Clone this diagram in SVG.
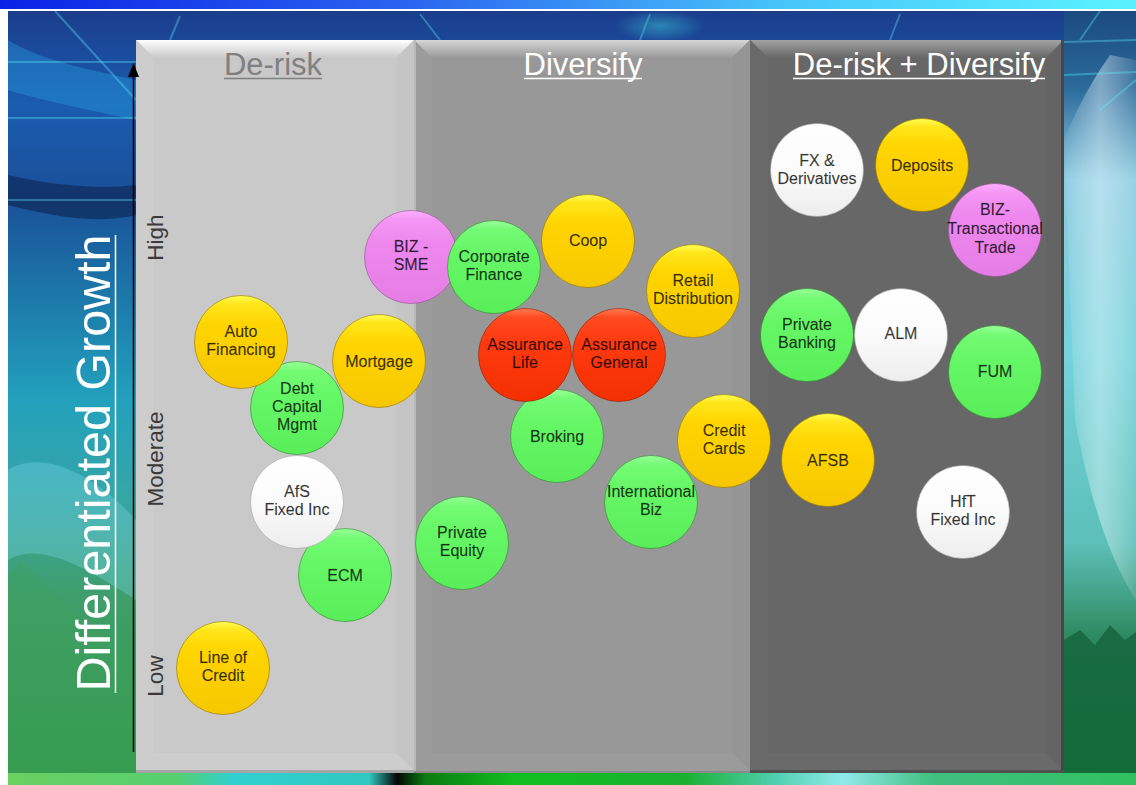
<svg xmlns="http://www.w3.org/2000/svg" width="1136" height="785" viewBox="0 0 1136 785">
<defs>
<style>
.hdr{font-family:"Liberation Sans",Arial,sans-serif;font-size:31px;text-anchor:middle}
.lvl{font-family:"Liberation Sans",Arial,sans-serif;font-size:22.5px;text-anchor:middle;fill:#3a3a3a}
.bt{font-family:"Liberation Sans",Arial,sans-serif;font-size:16px;text-anchor:middle;fill:#000;fill-opacity:.78;stroke:#000;stroke-opacity:.25;stroke-width:.4}
.y{fill:url(#gY);stroke:#8a6a00;stroke-opacity:.55;stroke-width:1}
.g{fill:url(#gG);stroke:#2a7a2a;stroke-opacity:.55;stroke-width:1}
.r{fill:url(#gR);stroke:#8a1a00;stroke-opacity:.55;stroke-width:1}
.p{fill:url(#gP);stroke:#8a4a8a;stroke-opacity:.55;stroke-width:1}
.w{fill:url(#gW);stroke:#999;stroke-opacity:.55;stroke-width:1}
</style>
<linearGradient id="gY" x1="0" y1="0" x2="0" y2="1"><stop offset="0" stop-color="#ffff55"/><stop offset=".09" stop-color="#ffe61c"/><stop offset=".3" stop-color="#ffd500"/><stop offset="1" stop-color="#f6c700"/></linearGradient>
<linearGradient id="gG" x1="0" y1="0" x2="0" y2="1"><stop offset="0" stop-color="#9aff9a"/><stop offset=".1" stop-color="#74fb74"/><stop offset=".35" stop-color="#66f766"/><stop offset="1" stop-color="#5aee5a"/></linearGradient>
<linearGradient id="gR" x1="0" y1="0" x2="0" y2="1"><stop offset="0" stop-color="#ff7a50"/><stop offset=".1" stop-color="#ff4a20"/><stop offset=".35" stop-color="#ff3a10"/><stop offset="1" stop-color="#f23000"/></linearGradient>
<linearGradient id="gP" x1="0" y1="0" x2="0" y2="1"><stop offset="0" stop-color="#ffb0ff"/><stop offset=".1" stop-color="#f596f5"/><stop offset=".35" stop-color="#ee88ee"/><stop offset="1" stop-color="#e47ee4"/></linearGradient>
<linearGradient id="gW" x1="0" y1="0" x2="0" y2="1"><stop offset="0" stop-color="#ffffff"/><stop offset=".5" stop-color="#fbfbfb"/><stop offset="1" stop-color="#ededed"/></linearGradient>
<linearGradient id="topbar" x1="0" y1="0" x2="1" y2="0"><stop offset="0" stop-color="#0a22e6"/><stop offset=".35" stop-color="#2a62f0"/><stop offset=".7" stop-color="#48c8fa"/><stop offset="1" stop-color="#5af2ff"/></linearGradient>
<linearGradient id="bg" x1="0" y1="0" x2="0" y2="1"><stop offset="0" stop-color="#1b3d8c"/><stop offset=".12" stop-color="#1a5cb0"/><stop offset=".24" stop-color="#1a4f98"/><stop offset=".34" stop-color="#1b6fa5"/><stop offset=".5" stop-color="#22a0bc"/><stop offset=".62" stop-color="#35a6a8"/><stop offset=".76" stop-color="#3f9e6a"/><stop offset="1" stop-color="#2f9a40"/></linearGradient>
<linearGradient id="rightStrip" x1="0" y1="0" x2="0" y2="1"><stop offset="0" stop-color="#1b4a80"/><stop offset=".1" stop-color="#2a6a9a"/><stop offset=".22" stop-color="#8ccbe0"/><stop offset=".45" stop-color="#74d2da"/><stop offset=".7" stop-color="#5cbfb8"/><stop offset=".82" stop-color="#2f8a60"/><stop offset="1" stop-color="#1e8a3c"/></linearGradient>
<linearGradient id="beam" x1="0" y1="0" x2="1" y2="0"><stop offset="0" stop-color="#ffffff" stop-opacity=".05"/><stop offset=".5" stop-color="#e8f8ff" stop-opacity=".45"/><stop offset="1" stop-color="#ffffff" stop-opacity=".1"/></linearGradient>
<linearGradient id="bottomStrip" x1="0" y1="0" x2="1" y2="0"><stop offset="0" stop-color="#6ad060"/><stop offset=".15" stop-color="#56cf70"/><stop offset=".2" stop-color="#30d0d0"/><stop offset=".32" stop-color="#30c8c0"/><stop offset=".345" stop-color="#050805"/><stop offset=".37" stop-color="#0a7a10"/><stop offset=".45" stop-color="#10c020"/><stop offset=".6" stop-color="#1ab030"/><stop offset=".68" stop-color="#50d0b0"/><stop offset=".74" stop-color="#90eaea"/><stop offset=".82" stop-color="#40c080"/><stop offset="1" stop-color="#30c060"/></linearGradient>
<radialGradient id="glow" cx="50%" cy="50%" r="50%"><stop offset="0" stop-color="#40d8e0" stop-opacity=".45"/><stop offset="1" stop-color="#40d8e0" stop-opacity="0"/></radialGradient>
<linearGradient id="tb1" x1="0" y1="0" x2="0" y2="1"><stop offset="0" stop-color="#ffffff"/><stop offset="1" stop-color="#c9c9c9"/></linearGradient>
<linearGradient id="tb2" x1="0" y1="0" x2="0" y2="1"><stop offset="0" stop-color="#d6d6d6"/><stop offset="1" stop-color="#989898"/></linearGradient>
<linearGradient id="tb3" x1="0" y1="0" x2="0" y2="1"><stop offset="0" stop-color="#a2a2a2"/><stop offset="1" stop-color="#676767"/></linearGradient>
</defs>

<g id="background">
<rect x="0" y="0" width="1136" height="785" fill="#ffffff"/>
<rect x="0" y="0" width="1136" height="9" fill="url(#topbar)"/>
<rect x="8" y="11" width="1128" height="774" fill="url(#bg)"/>
<rect x="1064" y="11" width="72" height="762" fill="url(#rightStrip)"/>
<path d="M1064,140 C1085,90 1100,70 1110,55 L1136,60 L1136,600 C1110,560 1090,500 1075,420 Z" fill="url(#beam)"/>
<path d="M1064,640 L1080,630 L1095,645 L1110,625 L1125,640 L1136,632 L1136,773 L1064,773 Z" fill="#12603a" opacity=".75"/>
<path d="M8,40 C40,60 90,70 136,80 L136,120 C90,110 40,100 8,90 Z" fill="#28a8e8" opacity=".35"/>
<path d="M8,175 C50,185 100,190 136,185 L136,215 C90,225 50,215 8,205 Z" fill="#071a40" opacity=".5"/>
<path d="M8,470 C40,450 90,470 136,520 L136,600 C90,570 40,540 8,560 Z" fill="#7ad8e8" opacity=".35"/>
<path d="M20,560 C60,600 100,640 136,660 L136,773 L8,773 L8,580 Z" fill="#3fa060" opacity=".45"/>
<g stroke="#5ff0ff" stroke-opacity=".35" stroke-width="2" fill="none">
<line x1="8" y1="62" x2="136" y2="62"/>
<line x1="8" y1="118" x2="136" y2="118"/>
<line x1="55" y1="11" x2="136" y2="100"/>
<line x1="8" y1="200" x2="136" y2="200"/>
<line x1="1064" y1="42" x2="1136" y2="40"/>
<line x1="1064" y1="75" x2="1136" y2="72"/>
<line x1="1100" y1="11" x2="1080" y2="40"/>
<line x1="1136" y1="80" x2="1100" y2="110"/>
<line x1="180" y1="16" x2="170" y2="40"/>
<line x1="420" y1="14" x2="440" y2="40"/>
<line x1="650" y1="14" x2="640" y2="40"/>
<line x1="900" y1="14" x2="890" y2="40"/>
</g>
<ellipse cx="660" cy="26" rx="45" ry="16" fill="url(#glow)"/>
<rect x="8" y="773" width="1128" height="12" fill="url(#bottomStrip)"/>
<rect x="0" y="9" width="1136" height="2" fill="#ffffff"/>
</g>

<g id="panels">
<g id="panel-derisk">
<rect x="136" y="40" width="278" height="733" fill="#c9c9c9"/>
<polygon points="136,40 414,40 396,58 154,58" fill="url(#tb1)"/>
<polygon points="136,40 154,58 154,753 136,771" fill="#cdcdcd"/>
<polygon points="414,40 414,771 396,753 396,58" fill="#c5c5c5"/>
<polygon points="136,771 154,753 396,753 414,771" fill="#cdcdcd"/>
<rect x="136" y="770" width="278" height="3" fill="#a6a6a6"/>
</g>
<g id="panel-diversify">
<rect x="414" y="40" width="336" height="733" fill="#989898"/>
<polygon points="414,40 750,40 732,58 432,58" fill="url(#tb2)"/>
<polygon points="414,40 432,58 432,753 414,771" fill="#9b9b9b"/>
<polygon points="750,40 750,771 732,753 732,58" fill="#959595"/>
<polygon points="414,771 432,753 732,753 750,771" fill="#9b9b9b"/>
<rect x="414" y="40" width="2" height="733" fill="#b8b8b8"/>
<rect x="414" y="771" width="336" height="2" fill="#8a8a8a"/>
</g>
<g id="panel-both">
<rect x="750" y="40" width="314" height="733" fill="#676767"/>
<polygon points="750,40 1064,40 1046,58 768,58" fill="url(#tb3)"/>
<polygon points="750,40 768,58 768,753 750,771" fill="#696969"/>
<polygon points="1064,40 1064,771 1046,753 1046,58" fill="#646464"/>
<polygon points="750,771 768,753 1046,753 1064,771" fill="#6a6a6a"/>
<rect x="1061" y="40" width="3" height="733" fill="#474747"/>
<rect x="750" y="770" width="314" height="3" fill="#505050"/>
</g>
<g id="headers">
<text class="hdr" x="273" y="75" fill="#808080">De-risk</text>
<line x1="224" y1="78.5" x2="322" y2="78.5" stroke="#808080" stroke-width="1.5"/>
<text class="hdr" x="583" y="75" fill="#ffffff">Diversify</text>
<line x1="524" y1="78.5" x2="642" y2="78.5" stroke="#ffffff" stroke-width="1.5"/>
<text class="hdr" x="919" y="75" fill="#ffffff">De-risk + Diversify</text>
<line x1="793" y1="78.5" x2="1045" y2="78.5" stroke="#ffffff" stroke-width="1.5"/>
</g>
</g>

<g id="axis">
<line x1="133.5" y1="74" x2="133.5" y2="752" stroke="#000" stroke-width="1.5"/>
<polygon points="133.5,63 128,77 139,77" fill="#000"/>
<text transform="translate(110,463) rotate(-90)" font-family="Liberation Sans, Arial, sans-serif" font-size="48" fill="#ffffff" text-anchor="middle" textLength="457" lengthAdjust="spacingAndGlyphs">Differentiated Growth</text>
<line x1="115.5" y1="235" x2="115.5" y2="693" stroke="#ffffff" stroke-width="1.5"/>
<text class="lvl" transform="translate(163,237.5) rotate(-90)">High</text>
<text class="lvl" transform="translate(163,459) rotate(-90)">Moderate</text>
<text class="lvl" transform="translate(163,676) rotate(-90)">Low</text>
</g>

<g id="connectors"></g>

<g id="nodes">
<g id="n-biz-sme"><circle class="p" cx="411" cy="257" r="46.5"/><text class="bt" x="411" y="252">BIZ -</text><text class="bt" x="411" y="270">SME</text></g>
<g id="n-corporate-finance"><circle class="g" cx="494" cy="267" r="46.5"/><text class="bt" x="494" y="262">Corporate</text><text class="bt" x="494" y="280">Finance</text></g>
<g id="n-coop"><circle class="y" cx="588" cy="241" r="46.5"/><text class="bt" x="588" y="246">Coop</text></g>
<g id="n-retail"><circle class="y" cx="693" cy="291" r="46.5"/><text class="bt" x="693" y="286">Retail</text><text class="bt" x="693" y="304">Distribution</text></g>
<g id="n-debt-capital"><circle class="g" cx="297" cy="408" r="46.5"/><text class="bt" x="297" y="394">Debt</text><text class="bt" x="297" y="412">Capital</text><text class="bt" x="297" y="430">Mgmt</text></g>
<g id="n-auto"><circle class="y" cx="241" cy="342" r="46.5"/><text class="bt" x="241" y="337">Auto</text><text class="bt" x="241" y="355">Financing</text></g>
<g id="n-mortgage"><circle class="y" cx="379" cy="361" r="46.5"/><text class="bt" x="379" y="367">Mortgage</text></g>
<g id="n-ecm"><circle class="g" cx="345" cy="575" r="46.5"/><text class="bt" x="345" y="581">ECM</text></g>
<g id="n-afs"><circle class="w" cx="297" cy="502" r="46.5"/><text class="bt" x="297" y="497">AfS</text><text class="bt" x="297" y="515">Fixed Inc</text></g>
<g id="n-private-equity"><circle class="g" cx="462" cy="543" r="46.5"/><text class="bt" x="462" y="538">Private</text><text class="bt" x="462" y="556">Equity</text></g>
<g id="n-line-of-credit"><circle class="y" cx="223" cy="668" r="46.5"/><text class="bt" x="223" y="663">Line of</text><text class="bt" x="223" y="681">Credit</text></g>
<g id="n-broking"><circle class="g" cx="557" cy="436" r="46.5"/><text class="bt" x="557" y="442">Broking</text></g>
<g id="n-assurance-life"><circle class="r" cx="525" cy="355" r="46.5"/><text class="bt" x="525" y="350">Assurance</text><text class="bt" x="525" y="368">Life</text></g>
<g id="n-assurance-general"><circle class="r" cx="619" cy="355" r="46.5"/><text class="bt" x="619" y="350">Assurance</text><text class="bt" x="619" y="368">General</text></g>
<g id="n-credit-cards"><circle class="y" cx="724" cy="441" r="46.5"/><text class="bt" x="724" y="436">Credit</text><text class="bt" x="724" y="454">Cards</text></g>
<g id="n-international"><circle class="g" cx="651" cy="502" r="46.5"/><text class="bt" x="651" y="497">International</text><text class="bt" x="651" y="515">Biz</text></g>
<g id="n-fx"><circle class="w" cx="817" cy="170" r="46.5"/><text class="bt" x="817" y="166">FX &amp;</text><text class="bt" x="817" y="184">Derivatives</text></g>
<g id="n-deposits"><circle class="y" cx="922" cy="165" r="46.5"/><text class="bt" x="922" y="171">Deposits</text></g>
<g id="n-biz-trade"><circle class="p" cx="995" cy="230" r="46.5"/><text class="bt" x="995" y="215">BIZ-</text><text class="bt" x="995" y="234">Transactional</text><text class="bt" x="995" y="253">Trade</text></g>
<g id="n-private-banking"><circle class="g" cx="807" cy="335" r="46.5"/><text class="bt" x="807" y="330">Private</text><text class="bt" x="807" y="348">Banking</text></g>
<g id="n-alm"><circle class="w" cx="901" cy="335" r="46.5"/><text class="bt" x="901" y="339">ALM</text></g>
<g id="n-fum"><circle class="g" cx="995" cy="372" r="46.5"/><text class="bt" x="995" y="377">FUM</text></g>
<g id="n-afsb"><circle class="y" cx="828" cy="460" r="46.5"/><text class="bt" x="828" y="466">AFSB</text></g>
<g id="n-hft"><circle class="w" cx="963" cy="512" r="46.5"/><text class="bt" x="963" y="507">HfT</text><text class="bt" x="963" y="525">Fixed Inc</text></g>
</g>
</svg>
